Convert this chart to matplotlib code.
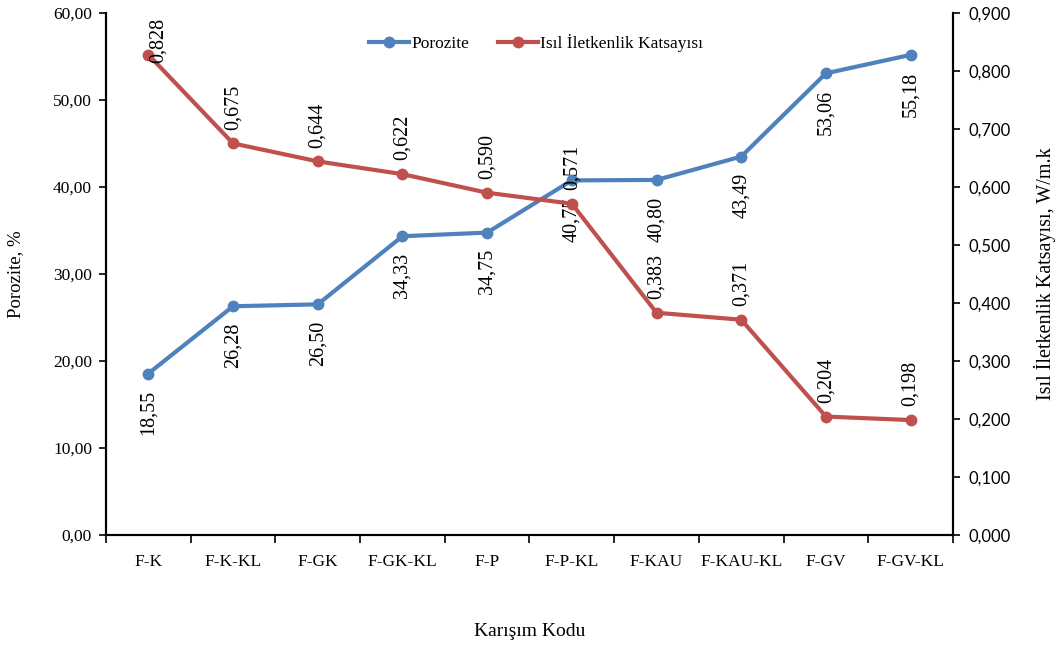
import numpy as np
import matplotlib.pyplot as plt
from matplotlib.ticker import FuncFormatter

kodlar = ["F-K", "F-K-KL", "F-GK", "F-GK-KL", "F-P", "F-P-KL",
          "F-KAU", "F-KAU-KL", "F-GV", "F-GV-KL"]
porozite = [18.55, 26.28, 26.50, 34.33, 34.75, 40.75, 40.80, 43.49, 53.06, 55.18]
isil = [0.828, 0.675, 0.644, 0.622, 0.590, 0.571, 0.383, 0.371, 0.204, 0.198]

mavi = "#4F81BD"
kirmizi = "#C0504D"

plt.rcParams['font.family'] = "Liberation Serif"

fig = plt.figure(figsize=(10.61, 6.46), dpi=100)
ax = fig.add_axes([0.0999, 0.172, 0.7983, 0.808])
ax2 = ax.twinx()

x = np.arange(len(kodlar))
l1, = ax.plot(x, porozite, color=mavi, lw=3, marker="o", ms=7.5, label="Porozite")
l2, = ax2.plot(x, isil, color=kirmizi, lw=3, marker="o", ms=7.5,
               label="Isıl İletkenlik Katsayısı")

# etiketler
for xi, v in zip(x, porozite):
    ax.annotate(f"{v:.2f}".replace(".", ","), (xi, v), xytext=(0, -12),
                textcoords="offset points", rotation=90, ha="center", va="top",
                fontsize=14.5)
for i, (xi, v) in enumerate(zip(x, isil)):
    off = (7, -6) if i == 0 else (0, 10)
    ax2.annotate(f"{v:.3f}".replace(".", ","), (xi, v), xytext=off,
                 textcoords="offset points", rotation=90, ha="center", va="bottom",
                 fontsize=14.5)

ax.set_xlim(-0.5, 9.5)
ax.set_ylim(0, 60)
ax2.set_ylim(0, 0.9)
ax.set_yticks(np.arange(0, 61, 10))
ax2.set_yticks(np.arange(0, 0.91, 0.1))
ax.yaxis.set_major_formatter(FuncFormatter(lambda v, p: f"{v:.2f}".replace(".", ",")))
ax2.yaxis.set_major_formatter(FuncFormatter(lambda v, p: f"{v:.3f}".replace(".", ",")))

ax.set_xticks(np.arange(-0.5, 10, 1))
ax.set_xticklabels([])
ax.set_xticks(x, minor=True)
ax.set_xticklabels(kodlar, minor=True)
ax.tick_params(axis="x", which="minor", length=0, pad=14, labelsize=12.5)
ax.tick_params(axis="x", which="major", length=6, width=1.2, direction="out")
ax.tick_params(axis="y", length=5, width=1.2, labelsize=12.5, pad=5)
ax2.tick_params(axis="y", length=5, width=1.2, labelsize=12, pad=6)
for t in ax2.get_yticklabels():
    t.set_fontfamily("Lato")

for a in (ax, ax2):
    a.spines["top"].set_visible(False)
    for s in ("left", "right", "bottom"):
        a.spines[s].set_linewidth(1.5)

ax.set_xlabel("Karışım Kodu", fontsize=14, labelpad=38)
ax.set_ylabel("Porozite, %", fontsize=13.5, labelpad=21)
ax2.set_ylabel("Isıl İletkenlik Katsayısı, W/m.k", fontsize=14.5, labelpad=17)

ax.legend([l1, l2], [l1.get_label(), l2.get_label()], loc="upper center",
          bbox_to_anchor=(0.508, 0.99), ncol=2, frameon=False, fontsize=12.5,
          handlelength=2.3, handletextpad=0.15, columnspacing=1.6)

fig.savefig("out.png", dpi=100)
